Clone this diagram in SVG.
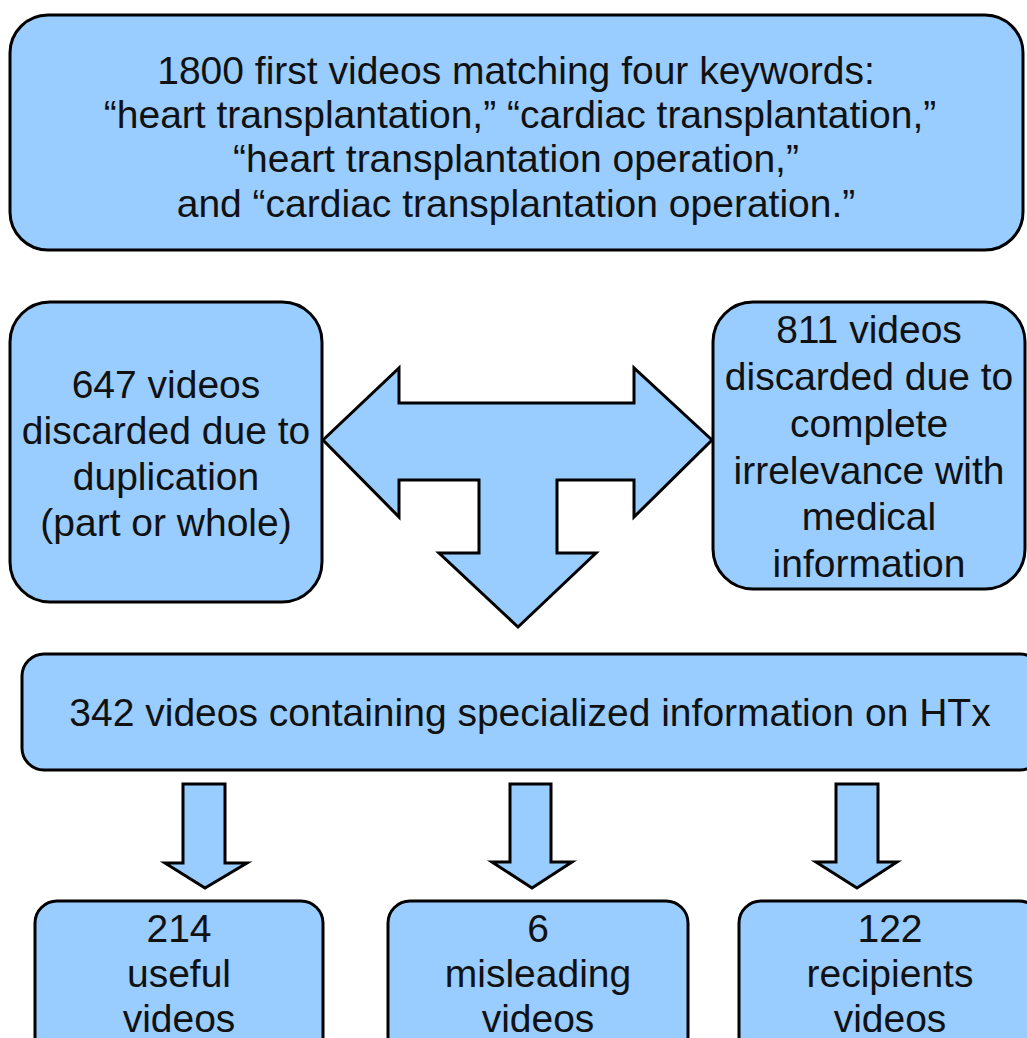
<svg xmlns="http://www.w3.org/2000/svg" width="1027" height="1038" viewBox="0 0 1027 1038">
<style>
.box{fill:#99ccff;stroke:#000;stroke-width:3}
.arr{fill:#99ccff;stroke:#000;stroke-width:3;stroke-linejoin:miter}
text{font-family:"Liberation Sans",Arial,sans-serif;font-size:39px;fill:#111;text-anchor:middle}
</style>
<rect width="1027" height="1038" fill="#fff"/>
<g id="top">
<rect class="box" x="10" y="15" width="1013" height="235" rx="38"/>
<text x="516" y="84">1800 first videos matching four keywords:</text>
<text x="520" y="128">“heart transplantation,” “cardiac transplantation,”</text>
<text x="516" y="172">“heart transplantation operation,”</text>
<text x="516" y="217">and “cardiac transplantation operation.”</text>
</g>
<g id="left">
<rect class="box" x="10" y="302" width="312" height="300" rx="40"/>
<text x="166" y="398">647 videos</text>
<text x="166" y="444">discarded due to</text>
<text x="166" y="490">duplication</text>
<text x="166" y="536">(part or whole)</text>
</g>
<g id="right">
<rect class="box" x="713" y="302" width="312" height="287" rx="40"/>
<text x="869" y="343">811 videos</text>
<text x="869" y="390">discarded due to</text>
<text x="869" y="437">complete</text>
<text x="869" y="484">irrelevance with</text>
<text x="869" y="530">medical</text>
<text x="869" y="577">information</text>
</g>
<g id="mid">
<rect class="box" x="22" y="654" width="1020" height="116" rx="22"/>
<text x="530" y="726">342 videos containing specialized information on HTx</text>
</g>
<g id="b1">
<rect class="box" x="35" y="901" width="288" height="170" rx="22"/>
<text x="179" y="942">214</text>
<text x="179" y="987">useful</text>
<text x="179" y="1032">videos</text>
</g>
<g id="b2">
<rect class="box" x="388" y="901" width="300" height="170" rx="22"/>
<text x="538" y="942">6</text>
<text x="538" y="987">misleading</text>
<text x="538" y="1032">videos</text>
</g>
<g id="b3">
<rect class="box" x="739" y="901" width="302" height="170" rx="22"/>
<text x="890" y="942">122</text>
<text x="890" y="987">recipients</text>
<text x="890" y="1032">videos</text>
</g>
<g id="connectors">
<polygon class="arr" points="323,440 399,368 399,403 634,403 634,368 712,440 634,517 634,480 557,480 557,553 596,553 518,627 439,553 479,553 479,480 399,480 399,517"/>
<polygon class="arr" points="183,784 225,784 225,863 247,863 205,888 165,863 183,863"/>
<polygon class="arr" points="510,784 551,784 551,862 572,862 532,888 492,862 510,862"/>
<polygon class="arr" points="836,784 878,784 878,862 897,862 857,888 816,862 836,862"/>
</g>
</svg>
